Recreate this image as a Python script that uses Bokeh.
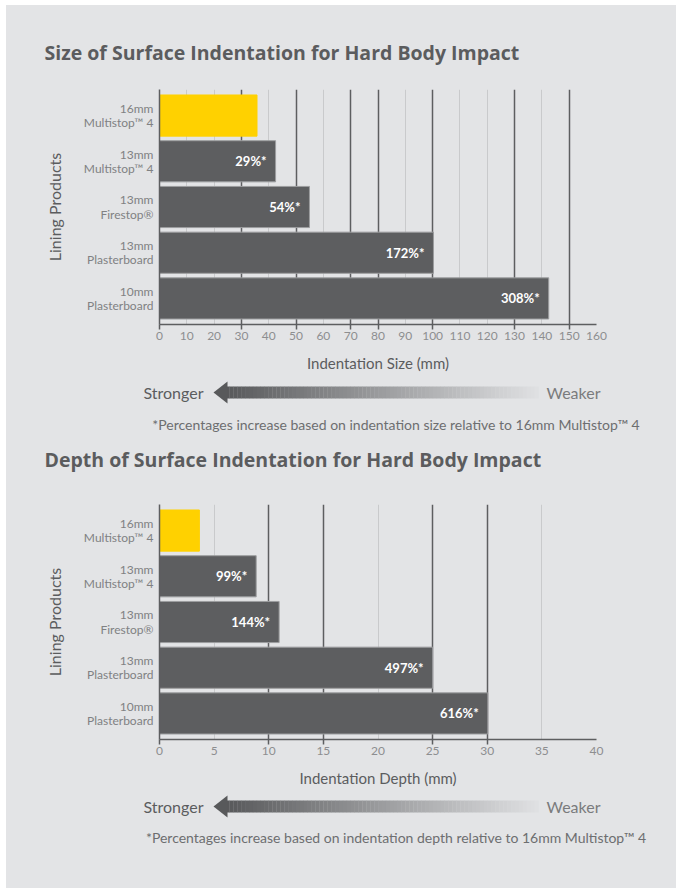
from bokeh.plotting import figure
from bokeh.models import FactorRange, Range1d, FixedTicker, Grid, ColumnDataSource
from bokeh.layouts import column, row
from bokeh.embed import file_html
from bokeh.resources import INLINE
from bokeh.core.properties import value

# ---------------- data ----------------
categories = ["16mm\nMultistop\u2122 4", "13mm\nMultistop\u2122 4", "13mm\nFirestop\u00ae",
              "13mm\nPlasterboard", "10mm\nPlasterboard"]
size_values = [35.7, 42.5, 54.9, 100.3, 142.5]
size_labels = ["", "29%*", "54%*", "172%*", "308%*"]
depth_values = [3.65, 8.85, 10.95, 25.0, 30.05]
depth_labels = ["", "99%*", "144%*", "497%*", "616%*"]
size_ticks = [0, 10, 20, 30, 40, 50, 60, 70, 80, 90, 100, 110, 120, 130, 140, 150, 160]
size_dark_lines = [30, 50, 70, 80, 100, 130, 150]
size_light_lines = [10, 20, 40, 60, 90, 110, 120, 140, 160]
depth_ticks = [0, 5, 10, 15, 20, 25, 30, 35, 40]
depth_dark_lines = [10, 15, 25, 30]
depth_light_lines = [5, 20, 35, 40]
bar_colors = ["#ffd100", "#5d5e60", "#5d5e60", "#5d5e60", "#5d5e60"]
bar_lines = ["#ffd100", "#9c9d9f", "#9c9d9f", "#9c9d9f", "#9c9d9f"]
title_size = "Size of Surface Indentation for Hard Body Impact"
title_depth = "Depth of Surface Indentation for Hard Body Impact"
note_size = "*Percentages increase based on indentation size relative to 16mm Multistop\u2122 4"
note_depth = "*Percentages increase based on indentation depth relative to 16mm Multistop\u2122 4"

BG = "#e3e4e6"
DARK = "#5d5e60"
LIGHT = "#c9cacc"
TXT = "#5b5c5e"
FONT = "Lato"
W = 670
BL = 153           # left border -> frame starts at page x 159
FW = 437           # frame width
BR = W - BL - FW


def make_chart(xlabel, values, labels, xmax, ticks, dark, light,
               top_border, bottom_border):
    src = ColumnDataSource(dict(cat=categories, val=values, lab=labels,
                                color=bar_colors, line=bar_lines))
    p = figure(width=W, height=top_border + 235 + bottom_border,
               y_range=FactorRange(*categories[::-1], range_padding=0.028),
               x_range=Range1d(0, xmax),
               output_backend="svg", toolbar_location=None,
               min_border_left=BL, min_border_right=BR,
               min_border_top=top_border, min_border_bottom=bottom_border,
               background_fill_color=None, border_fill_color=BG,
               outline_line_color=None)

    # grids
    p.ygrid.visible = False
    p.xgrid.ticker = FixedTicker(ticks=dark)
    p.xgrid.grid_line_color = DARK
    p.xgrid.grid_line_width = 1.5
    lg = Grid(dimension=0, ticker=FixedTicker(ticks=light),
              grid_line_color=LIGHT, grid_line_width=1)
    p.add_layout(lg)

    # x axis
    xa = p.xaxis[0]
    xa.ticker = FixedTicker(ticks=ticks, minor_ticks=[0] + dark)
    xa.major_tick_in = 0
    xa.major_tick_out = 0
    xa.minor_tick_in = 0
    xa.minor_tick_out = 5
    xa.minor_tick_line_color = DARK
    xa.minor_tick_line_width = 1.5
    xa.axis_line_color = DARK
    xa.axis_line_width = 1.5
    xa.major_label_text_font = FONT
    xa.major_label_text_font_size = "12px"
    xa.major_label_text_color = "#8d8e90"
    xa.major_label_standoff = 2
    xa.axis_label = xlabel
    xa.axis_label_text_font = FONT
    xa.axis_label_text_font_size = "15px"
    xa.axis_label_text_font_style = "normal"
    xa.axis_label_text_color = TXT
    xa.axis_label_standoff = 11

    # y axis
    ya = p.yaxis[0]
    ya.major_tick_in = 0
    ya.major_tick_out = 0
    ya.minor_tick_in = 0
    ya.minor_tick_out = 0
    ya.major_tick_line_color = None
    ya.minor_tick_line_color = None
    ya.axis_line_color = DARK
    ya.axis_line_width = 1.5
    ya.major_label_text_font = FONT
    ya.major_label_text_font_size = "12px"
    ya.major_label_text_line_height = 0.95
    ya.major_label_text_color = "#808183"
    ya.major_label_standoff = 6
    ya.axis_label = "Lining Products"
    ya.axis_label_text_font = FONT
    ya.axis_label_text_font_size = "16px"
    ya.axis_label_text_font_style = "normal"
    ya.axis_label_text_color = TXT
    ya.axis_label_standoff = 17

    p.hbar(y="cat", left=0, right="val", height=0.9, fill_color="color",
           line_color="line", line_width=1, source=src)
    p.text(x="val", y="cat", text="lab", x_offset=-9, text_align="right",
           text_baseline="middle", text_color="white", text_font=value(FONT),
           text_font_style="bold", text_font_size="13px", source=src)
    return p


def make_strip(y0, height):
    # decoration strip; x and y are page pixel coordinates
    a = figure(width=W, height=height, x_range=Range1d(6, 6 + W),
               y_range=Range1d(y0 + height, y0), output_backend="svg",
               toolbar_location=None, min_border=0,
               background_fill_color=None, border_fill_color=BG,
               outline_line_color=None)
    a.axis.visible = False
    a.grid.visible = False
    return a


def add_title(a, text, y):
    a.text(x=[44], y=[y], text=[text], text_align="left", text_baseline="middle",
           text_font=value("Open Sans"), text_font_style="bold",
           text_font_size="19.5px", text_color=TXT)


def add_arrow(a, arrow_y, note_y, note):
    n = 80
    x_start, x_end = 225.0, 538.0
    c0 = (0x58, 0x59, 0x5b)
    c1 = (0xdf, 0xe0, 0xe2)
    lefts, rights, cols = [], [], []
    for i in range(n):
        t = i / (n - 1)
        lefts.append(x_start + (x_end - x_start) * i / n)
        rights.append(x_start + (x_end - x_start) * (i + 1) / n + 0.3)
        cols.append("#%02x%02x%02x" % tuple(int(round(c0[k] + (c1[k] - c0[k]) * t)) for k in range(3)))
    a.quad(left=lefts, right=rights, top=[arrow_y - 6] * n, bottom=[arrow_y + 6] * n,
           fill_color=cols, line_color=None)
    a.patch(x=[213, 227, 227], y=[arrow_y, arrow_y - 11, arrow_y + 11],
            fill_color="#58595b", line_color=None)
    a.text(x=[143], y=[arrow_y], text=["Stronger"], text_align="left",
           text_baseline="middle", text_font=value(FONT), text_font_size="16px",
           text_color=TXT)
    a.text(x=[546], y=[arrow_y], text=["Weaker"], text_align="left",
           text_baseline="middle", text_font=value(FONT), text_font_size="16px",
           text_color="#7a7b7d")
    a.text(x=[395.5], y=[note_y], text=[note], text_align="center",
           text_baseline="middle", text_font=value(FONT), text_font_size="14px",
           text_color="#6d6e70")


t1 = make_strip(5, 70)
add_title(t1, title_size, 52)

p1 = make_chart("Indentation Size (mm)", size_values, size_labels, 160,
                size_ticks, size_dark_lines, size_light_lines, 14, 56)

a1 = make_strip(380, 110)
add_arrow(a1, 392, 424, note_size)
add_title(a1, title_depth, 459)

p2 = make_chart("Indentation Depth (mm)", depth_values, depth_labels, 40,
                depth_ticks, depth_dark_lines, depth_light_lines, 14, 55)

a2 = make_strip(794, 94)
add_arrow(a2, 806, 837, note_depth)

layout = column(row(t1), p1, row(a1), p2, row(a2), spacing=0, margin=(5, 0, 0, 6),
                styles={"background-color": BG})
open("out.html", "w").write(file_html(layout, INLINE))
